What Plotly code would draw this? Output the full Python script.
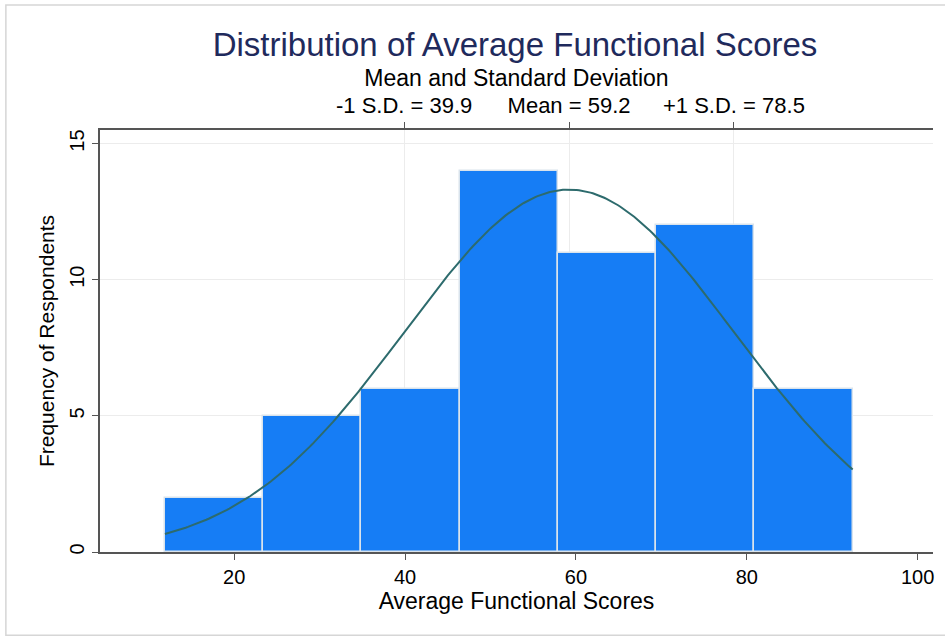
import numpy as np
import plotly.graph_objects as go

# ---- data ----
counts = [2, 5, 6, 14, 11, 12, 6]
bin_start = 11.9
bin_width = 11.5
mean_score = 59.2
sd_score = 19.3
top_tick_vals = [39.9, 59.2, 78.5]
top_tick_text = ["-1 S.D. = 39.9", "Mean = 59.2", "+1 S.D. = 78.5"]
x_tick_vals = [20, 40, 60, 80, 100]
y_tick_vals = [0, 5, 10, 15]

n_obs = sum(counts)
centers = [bin_start + bin_width * (i + 0.5) for i in range(len(counts))]
x_lo = bin_start
x_hi = bin_start + bin_width * len(counts)

# fitted normal density (scaled to frequency)
xs = np.linspace(x_lo, x_hi, 300)
ys = n_obs * bin_width / (sd_score * np.sqrt(2 * np.pi)) * np.exp(-0.5 * ((xs - mean_score) / sd_score) ** 2)

FONT = "Liberation Sans, Arial, Helvetica, sans-serif"
xrange = [4.3, 101.8]
yrange = [0, 15.5]

fig = go.Figure()
fig.add_trace(go.Bar(
    x=centers, y=counts, width=bin_width,
    marker=dict(color="#167df5", line=dict(color="#d9e3ec", width=1.5)),
    showlegend=False, hoverinfo="x+y",
))
fig.add_trace(go.Scatter(
    x=xs, y=ys, mode="lines",
    line=dict(color="#2d6b6d", width=2),
    showlegend=False,
))
# invisible trace to activate top axis
fig.add_trace(go.Scatter(x=[mean_score], y=[0], xaxis="x2", mode="markers",
                         marker=dict(opacity=0), showlegend=False, hoverinfo="skip"))

fig.update_layout(
    width=945, height=639,
    margin=dict(l=100, r=12, t=130, b=87),
    paper_bgcolor="white", plot_bgcolor="white",
    font=dict(family=FONT, color="black", size=20),
    bargap=0,
    title=dict(text="Distribution of Average Functional Scores",
               x=0.545, xanchor="center", y=0.93, yanchor="middle",
               font=dict(family=FONT, size=33, color="#1f2a5c")),
    xaxis=dict(range=xrange, tickvals=x_tick_vals, ticks="outside", ticklen=6,
               tickcolor="#555", showline=True, linecolor="#555", linewidth=1.5,
               showgrid=False, zeroline=False,
               tickfont=dict(size=20),
               title=dict(text="Average Functional Scores", font=dict(size=23), standoff=0)),
    xaxis2=dict(range=xrange, overlaying="x", side="top", tickvals=top_tick_vals,
                ticktext=top_tick_text, ticks="outside", ticklen=6, tickcolor="#555",
                showline=True, linecolor="#555", linewidth=1.5,
                showgrid=True, gridcolor="#ececec", gridwidth=1, zeroline=False,
                tickfont=dict(size=22),
                title=dict(text="Mean and Standard Deviation", font=dict(size=23), standoff=0)),
    yaxis=dict(range=yrange, tickvals=y_tick_vals, ticks="outside", ticklen=6,
               tickcolor="#555", showline=True, linecolor="#555", linewidth=1.5,
               showgrid=True, gridcolor="#ececec", gridwidth=1, zeroline=False,
               tickangle=-90, tickfont=dict(size=20),
               title=dict(text="Frequency of Respondents", font=dict(size=21), standoff=6)),
)
fig.add_shape(type="rect", xref="paper", yref="paper", x0=-0.113, x1=1.03, y0=-0.197, y1=1.296,
              line=dict(color="#d6d6d6", width=1.5), layer="below")
fig.write_html("out.html")
